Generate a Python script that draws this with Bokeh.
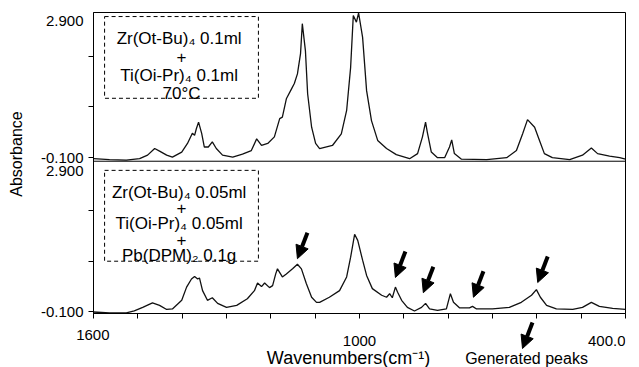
import math
from bokeh.plotting import figure
from bokeh.layouts import column
from bokeh.models import (Range1d, FixedTicker, Span, BoxAnnotation, Arrow, NormalHead,
                          ColumnDataSource, LinearAxis)
from bokeh.core.properties import value
from bokeh.transform import dodge
from bokeh.embed import file_html
from bokeh.resources import INLINE

# ---------------- data ----------------
# upper spectrum: Zr(Ot-Bu)4 0.1ml + Ti(Oi-Pr)4 0.1ml, 70°C
top_wn = [1600, 1564, 1526, 1496, 1478, 1462, 1451, 1435, 1422, 1401, 1388, 1377, 1372, 1368,
          1363, 1356, 1350, 1341, 1332, 1323, 1309, 1286, 1264, 1244, 1232, 1221, 1207, 1192,
          1180, 1174, 1165, 1153, 1147, 1140, 1133, 1129, 1122, 1117, 1108, 1099, 1090, 1061,
          1041, 1029, 1020, 1014, 1007, 1002, 993, 984, 973, 959, 939, 917, 887, 869, 858, 851,
          847, 838, 824, 808, 797, 792, 786, 770, 713, 668, 646, 632, 621, 605, 594, 583, 565,
          526, 497, 477, 463, 436, 413, 400]
top_abs = [-0.12, -0.14, -0.15, -0.12, -0.05, 0.08, 0.03, -0.05, -0.09, 0.01, 0.18, 0.38, 0.34,
           0.47, 0.60, 0.38, 0.11, 0.11, 0.21, 0.08, -0.05, -0.09, -0.03, 0.04, 0.27, 0.14, 0.18,
           0.31, 0.67, 0.70, 1.06, 1.26, 1.36, 1.55, 1.95, 2.54, 2.01, 1.16, 0.50, 0.18, 0.08,
           0.14, 0.37, 0.83, 1.68, 2.70, 2.57, 2.75, 2.27, 1.22, 0.63, 0.24, 0.08, -0.04, -0.12,
           -0.02, 0.31, 0.60, 0.40, 0.01, -0.10, -0.10, 0.11, 0.25, -0.02, -0.13, -0.14, -0.10,
           0.04, 0.37, 0.65, 0.50, 0.24, -0.02, -0.10, -0.14, -0.05, 0.09, -0.02, -0.07, -0.10,
           -0.13]

# lower spectrum: Zr(Ot-Bu)4 0.05ml + Ti(Oi-Pr)4 0.05ml + Pb(DPM)2 0.1g
bottom_wn = [1600, 1564, 1526, 1508, 1489, 1467, 1451, 1435, 1422, 1401, 1390, 1379, 1372, 1365,
             1361, 1354, 1343, 1332, 1320, 1300, 1277, 1253, 1237, 1230, 1221, 1214, 1203, 1196,
             1189, 1185, 1174, 1165, 1151, 1140, 1131, 1120, 1108, 1097, 1090, 1068, 1045, 1029,
             1020, 1011, 1004, 993, 984, 971, 950, 939, 932, 926, 919, 914, 905, 892, 876, 860,
             851, 842, 824, 804, 795, 788, 774, 752, 745, 736, 700, 662, 635, 612, 601, 592, 578,
             556, 519, 497, 477, 459, 429, 400]
bottom_abs = [-0.10, -0.12, -0.12, -0.08, -0.01, 0.08, 0.03, -0.05, -0.04, 0.13, 0.39, 0.55, 0.60,
              0.55, 0.57, 0.32, 0.13, 0.18, 0.07, -0.01, 0.03, 0.16, 0.32, 0.47, 0.40, 0.47, 0.38,
              0.42, 0.65, 0.75, 0.59, 0.65, 0.75, 0.84, 0.75, 0.46, 0.19, 0.09, 0.09, 0.19, 0.32,
              0.59, 0.98, 1.43, 1.31, 0.92, 0.62, 0.36, 0.23, 0.19, 0.26, 0.18, 0.39, 0.29, 0.13,
              -0.01, -0.08, -0.01, 0.07, -0.04, -0.07, -0.04, 0.26, 0.09, -0.02, -0.02, 0.01,
              -0.04, -0.04, -0.01, 0.09, 0.23, 0.34, 0.19, 0.03, -0.04, -0.05, -0.01, 0.09, 0.01,
              -0.03, -0.05]

# generated peaks marked with arrows in the lower spectrum (wavenumber, arrow tip absorbance)
arrow_wn = [1140, 919, 856, 743, 598]
arrow_tip_abs = [0.95, 0.58, 0.28, 0.19, 0.48]

x_ticks = [1600, 1500, 1400, 1300, 1200, 1100, 1000, 900, 800, 700, 600, 500, 400]
x_first_label = "1600"
x_mid_value = 1000
x_mid_label = "1000"
x_end_value = 400
x_end_label = "400.0"
y_ticks = [-0.1, 0.9, 1.9]
y_bottom_label = "-0.100"
y_top_label = "2.900"

legend_top = ["Zr(Ot-Bu)\u2084  0.1ml", "+", "Ti(Oi-Pr)\u2084  0.1ml", "70\u00b0C"]
legend_bottom = ["Zr(Ot-Bu)\u2084  0.05ml", "+", "Ti(Oi-Pr)\u2084  0.05ml", "+", "Pb(DPM)\u2082  0.1g"]

x_title = "Wavenumbers(cm\u207b\u00b9)"
y_title = "Absorbance"
arrow_legend = "Generated peaks"

# ---------------- layout ----------------
FONT = "Liberation Sans"
W, H_MAIN, H_FOOT = 639, 320, 47
LEFT, RIGHT, TOP, BOTTOM = 93, 14, 12, 7
TOP_PANEL = (-0.17, 2.76)      # visible absorbance range of the upper panel
BOTTOM_PANEL = (-0.13, 2.87)   # visible absorbance range of the lower panel
OFFSET = BOTTOM_PANEL[1] - TOP_PANEL[0]
Y0, Y1 = BOTTOM_PANEL[0], OFFSET + TOP_PANEL[1]
FRAME_H = H_MAIN - TOP - BOTTOM
PPU = FRAME_H / (Y1 - Y0)                 # pixels per absorbance unit
PX_WN = 1200 / (W - LEFT - RIGHT)         # wavenumbers per pixel
DIVIDER = OFFSET + TOP_PANEL[0]

p = figure(width=W, height=H_MAIN, x_range=Range1d(1600, 400), y_range=Range1d(Y0, Y1),
           output_backend="svg", toolbar_location=None,
           min_border_left=LEFT, min_border_right=RIGHT, min_border_top=TOP,
           min_border_bottom=BOTTOM)
p.xgrid.visible = False
p.ygrid.visible = False
p.outline_line_color = "black"
p.outline_line_width = 1
p.outline_line_alpha = 1
p.background_fill_color = "white"
p.border_fill_color = "white"

# tick-mark axes (their labels are carried by the text axes below)
for ax in (p.xaxis[0], p.yaxis[0]):
    ax.axis_line_color = "black"
    ax.major_tick_line_color = "black"
    ax.major_tick_out = 5
    ax.major_tick_in = 0
    ax.minor_tick_line_color = None
    ax.major_label_text_font_size = "0px"
    ax.major_label_standoff = 0
p.xaxis.ticker = FixedTicker(ticks=x_ticks, minor_ticks=[])
p.xaxis.major_label_overrides = {t: "" for t in x_ticks}
yt = [round(v, 3) for v in y_ticks] + [round(v + OFFSET, 3) for v in y_ticks]
p.yaxis.ticker = FixedTicker(ticks=yt, minor_ticks=[])
p.yaxis.major_label_overrides = {t: "" for t in yt}


def text_axis(fig, labels, size, standoff, orientation="horizontal"):
    ticks = list(labels.keys())
    ax = LinearAxis(ticker=FixedTicker(ticks=ticks, minor_ticks=[]),
                    major_label_overrides=labels, axis_line_color=None,
                    major_tick_line_color=None, minor_tick_line_color=None,
                    major_tick_out=0, major_tick_in=0, major_label_standoff=standoff,
                    major_label_text_font=FONT, major_label_text_font_size=size,
                    major_label_text_color="black", major_label_orientation=orientation)
    fig.add_layout(ax, "left")


# y tick labels: -0.100 at each panel's tick, 2.900 at each panel's top
y_labels = {
    round(y_ticks[0], 3): y_bottom_label,
    round(y_ticks[0] + OFFSET, 3): y_bottom_label,
    round(Y1 - 8.5 / PPU, 3): y_top_label,
    round(DIVIDER - 10 / PPU, 3): y_top_label,
}
text_axis(p, y_labels, "15px", 5)
# y title
text_axis(p, {round(Y0 + (FRAME_H + TOP - 153.5) / PPU, 3): y_title}, "16px", 12, "vertical")

# panel divider
p.add_layout(Span(location=DIVIDER, dimension="width", line_color="black", line_width=1))

# spectra
src_top = ColumnDataSource(dict(wn=top_wn, a=top_abs))
src_bot = ColumnDataSource(dict(wn=bottom_wn, a=bottom_abs))
p.line(x="wn", y=dodge("a", OFFSET), source=src_top, line_color="#111111", line_width=1.3)
p.line(x="wn", y="a", source=src_bot, line_color="#111111", line_width=1.3)

# legend boxes
BOX_L, BOX_R = 1575, 1228
box_specs = [
    (legend_top, OFFSET, 2.68, 1.07, 2.248, 0.36),
    (legend_bottom, 0.0, 2.69, 0.90, 2.257, 0.31),
]
lx, ly, ltxt = [], [], []
for lines, off, btop, bbot, first, step in box_specs:
    p.add_layout(BoxAnnotation(left=BOX_L, right=BOX_R, top=btop + off, bottom=bbot + off,
                               fill_alpha=0, line_color="black", line_alpha=1, line_width=1,
                               line_dash="4 3"))
    for i, t in enumerate(lines):
        lx.append((BOX_L + BOX_R) / 2)
        ly.append(first + off - i * step)
        ltxt.append(t)
p.text(x="x", y="y", text="t", source=ColumnDataSource(dict(x=lx, y=ly, t=ltxt)),
       text_align="center", text_baseline="alphabetic", text_font=value(FONT),
       text_font_size="17px", text_color="black")

# arrows marking generated peaks
DX = 10 * PX_WN
DY = 26 / PPU
arr = ColumnDataSource(dict(x0=[w - DX for w in arrow_wn], y0=[a + DY for a in arrow_tip_abs],
                            x1=arrow_wn, y1=arrow_tip_abs))
p.add_layout(Arrow(end=NormalHead(size=13, fill_color="black", line_color="black"),
                   x_start="x0", y_start="y0", x_end="x1", y_end="y1", source=arr,
                   line_width=4, line_color="black"))

# ---------------- footer strip: x tick labels, x title, arrow legend ----------------
# its frame is aligned with the plot frame, so it shares the wavenumber range (1 y unit = 1 px)
foot = figure(width=W, height=H_FOOT, x_range=p.x_range, y_range=Range1d(0, H_FOOT),
              output_backend="svg", toolbar_location=None,
              x_axis_location=None, y_axis_location=None,
              min_border_left=LEFT, min_border_right=RIGHT, min_border_top=0,
              min_border_bottom=0)
foot.xgrid.visible = False
foot.ygrid.visible = False
foot.outline_line_color = None
foot.background_fill_color = "white"
foot.border_fill_color = "white"

LABEL_ROW = 27   # baseline of the tick-label row (px above the strip bottom)
# "1600" sits over the frame's left edge: carried by a left text axis
text_axis(foot, {LABEL_ROW + 6: x_first_label}, "15px", -16)
foot.text(x=[x_mid_value], y=[LABEL_ROW], text=[x_mid_label], text_align="center",
          text_baseline="alphabetic", text_font=value(FONT), text_font_size="15px",
          text_color="black")
foot.text(x=[x_end_value], y=[LABEL_ROW], text=[x_end_label], text_align="right",
          text_baseline="alphabetic", text_font=value(FONT), text_font_size="15px",
          text_color="black")
foot.text(x=[1600 - (348 - LEFT) * PX_WN], y=[10], text=[x_title], text_align="center",
          text_baseline="alphabetic", text_font=value(FONT), text_font_size="18px",
          text_color="black")
foot.text(x=[1600 - (526 - LEFT) * PX_WN], y=[9], text=[arrow_legend], text_align="center",
          text_baseline="alphabetic", text_font=value(FONT), text_font_size="16px",
          text_color="black")
tip_x = 1600 - (522 - LEFT) * PX_WN
foot.add_layout(Arrow(end=NormalHead(size=13, fill_color="black", line_color="black"),
                      x_start=tip_x - DX, y_start=19 + 26, x_end=tip_x, y_end=19,
                      line_width=4, line_color="black"))

layout = column(p, foot, spacing=0)
open("out.html", "w").write(file_html(layout, INLINE))
